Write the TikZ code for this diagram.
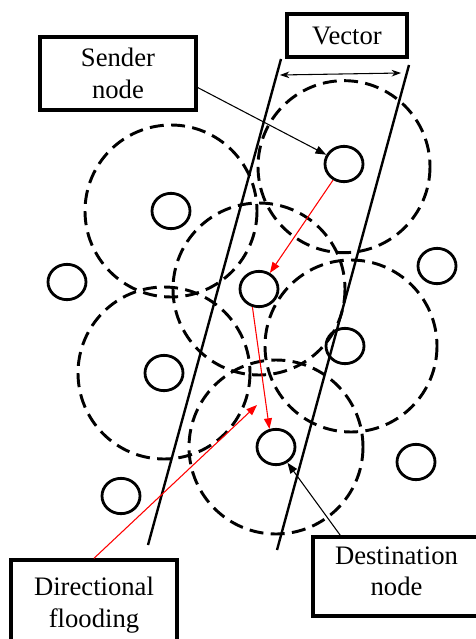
\documentclass[tikz,border=0pt]{standalone}
\usepackage{fontspec}
\setmainfont{Liberation Serif}
\usetikzlibrary{arrows.meta,shapes.geometric}
\begin{document}
\begin{tikzpicture}[x=0.75pt,y=-0.75pt,
  every node/.style={font=\fontsize{20}{23.5}\selectfont},
  labelbox/.style={draw, line width=2.6pt, align=center, inner sep=0pt},
  sensor/.style={draw, ellipse, line width=2.1pt, minimum width=28.5pt, minimum height=26.5pt, inner sep=0pt},
  coverage/.style={line width=2.2pt, dash pattern=on 10.5pt off 5.5pt},
  lanestyle/.style={line width=1.8pt},
  floodarrow/.style={red, line width=0.8pt, -{Triangle[length=8pt,width=6pt]}},
  pointerarrow/.style={black, line width=0.8pt, -{Triangle[length=8pt,width=6pt]}},
  widtharrow/.style={black, line width=0.8pt, {Stealth[length=7pt,width=5pt]}-{Stealth[length=7pt,width=5pt]}},
]
\useasboundingbox (0,0) rectangle (475,639);

% sensor nodes
\node[sensor] (s)  at (344,164) {};
\node[sensor] (n1) at (171,211) {};
\node[sensor] (n2) at (67,282) {};
\node[sensor] (n3) at (259,289) {};
\node[sensor] (n4) at (437,266) {};
\node[sensor] (n5) at (345,346) {};
\node[sensor] (n6) at (164,373) {};
\node[sensor] (n7) at (276,447) {};
\node[sensor] (n8) at (416,462) {};
\node[sensor] (n9) at (121,496) {};

% transmission ranges
\draw[coverage] ([yshift=-2pt]s) circle [radius=86];
\draw[coverage] (n1) circle [radius=86];
\draw[coverage] (n3) circle [radius=86];
\draw[coverage] ([xshift=4.5pt]n5) circle [radius=86];
\draw[coverage] (n6) circle [radius=86];
\draw[coverage] (n7) circle [radius=87];

% vector lane
\coordinate (la) at (281,59);
\coordinate (lb) at (148,545);
\coordinate (ra) at (409,65);
\coordinate (rb) at (277,550);
\draw[lanestyle] (la) -- (lb);
\draw[lanestyle] (ra) -- (rb);
\coordinate (wa) at (280,75);
\coordinate (wb) at (401,73);
\draw[widtharrow] (wa) -- (wb);

% label boxes
\node[labelbox, minimum width=90pt, minimum height=32.25pt] (vb) at (347,35.5) {Vector};
\node[labelbox, minimum width=117pt, minimum height=54.75pt] (sb) at (118,73.5) {Sender\\node};
\node[labelbox, minimum width=124.5pt, minimum height=67.5pt] (fb) at (94,605) {Directional\\flooding};
\node[labelbox, minimum width=125.25pt, minimum height=59.25pt, text depth=8pt] (db) at (396.5,576.5) {Destination\\node};

% flooding path
\draw[floodarrow] (s) -- (n3);
\draw[floodarrow] (n3.250) -- (n7.110);
\coordinate (fe) at (257,405);
\draw[floodarrow] (fb.north) -- (fe);

% pointers
\draw[pointerarrow] (sb.-10) -- (s);
\draw[pointerarrow] ([xshift=21.75pt]db.north west) -- (n7);
\end{tikzpicture}
\end{document}
